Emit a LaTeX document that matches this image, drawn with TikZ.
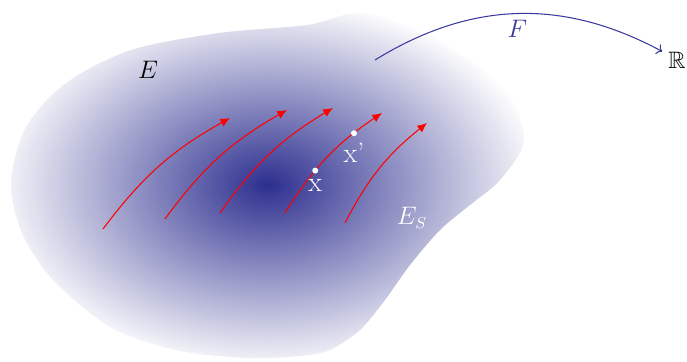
\documentclass[tikz,border=0pt]{standalone}
\usepackage{amssymb}
\usepackage{xcolor}
\definecolor{cBlob}{HTML}{2D2F8F}
\definecolor{cMap}{HTML}{3A3A9C}
\definecolor{cFlow}{HTML}{FF0000}
\usetikzlibrary{arrows.meta}
\pgfdeclareradialshading{blob-glow}{\pgfpointorigin}{color(0bp)=(cBlob); color(27bp)=(white); color(50bp)=(white)}
\tikzset{
  lbl-math/.style={font=\fontsize{13.5}{16}\selectfont},
  lbl-pt/.style={text=white,font=\fontsize{16}{19}\selectfont,inner sep=3pt},
  pt-dot/.style={circle,fill=white,inner sep=0pt,minimum size=3.4pt},
  arrow-flow/.style={-{Latex[length=5.5pt,width=4.8pt]},line width=0.6pt,draw=cFlow},
  arrow-map/.style={-{To[length=3pt]},line width=0.6pt,draw=cMap},
}

\begin{document}
\begin{tikzpicture}[x=0.02cm,y=0.02cm]
  \useasboundingbox (0,0) rectangle (687,362);
  % the space E, shaded from the middle
  \shade[shading=blob-glow] plot[smooth cycle] coordinates {
    (131,312) (219,329) (307,337) (364,349) (438,322) (504,275) (524,222)
    (500,182) (470,157) (440,132) (410,97) (385,62) (360,32) (330,12)
    (300,6) (245,4) (175,12) (110,35) (53,82) (22,129) (11,179) (26,235)
    (66,279)};
  \node[lbl-math] (E) at (148,292) {$E$};
  \node[lbl-math,text=white] (ES) at (412,144) {$E_S$};
  \node[lbl-math] (R) at (677,302) {$\mathbb{R}$};
  % flow lines
  \foreach \i/\sx/\sy/\tx/\ty in {1/103/133/230/244, 2/165/143/287/252,
      3/220/149/333/254, 5/345/139/427/239} {
    \coordinate (s\i) at (\sx,\sy);
    \coordinate (t\i) at (\tx,\ty);
    \draw[arrow-flow] (s\i) to[bend left=12] (t\i);
  }
  \coordinate (s4) at (285,149);
  \coordinate (t4) at (382,249);
  \draw[arrow-flow] (s4) to[bend left=12]
    node[pt-dot,pos=0.36,label={[lbl-pt]below:x}] (x) {}
    node[pt-dot,pos=0.77,label={[lbl-pt]below:x'}] (xp) {} (t4);
  % the map F
  \coordinate (F0) at (375,302);
  \draw[arrow-map] (F0) to[bend left=30]
    node[below,lbl-math,text=cMap] (F) {$F$} (R);
\end{tikzpicture}
\end{document}
